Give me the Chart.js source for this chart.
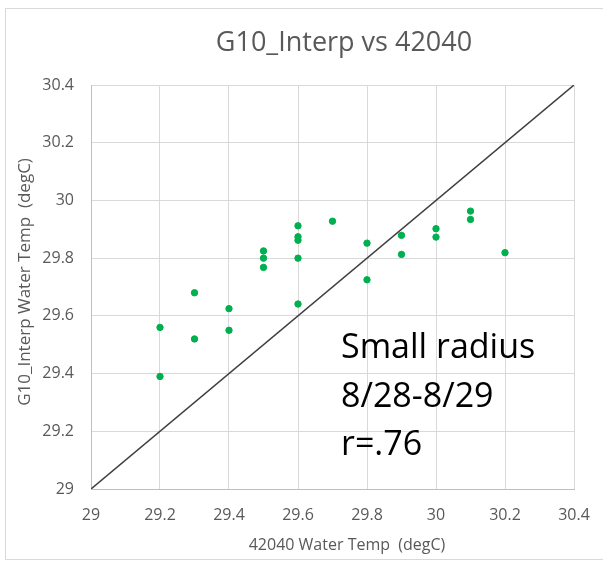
<!DOCTYPE html>
<html>
<head>
<meta charset="utf-8">
<script src="https://cdn.jsdelivr.net/npm/chart.js@4/dist/chart.umd.min.js"></script>
<style>
  html, body { margin: 0; padding: 0; background: #fff; }
  #wrap { width: 603px; height: 563px; position: relative; }
</style>
</head>
<body>
<div id="wrap"><canvas id="scatterChart"></canvas></div>
<script>
// buoy 42040 temps (x) against G10 interpolated temps (y)
const buoyTemp = [29.2, 29.2, 29.3, 29.3, 29.4, 29.4, 29.5, 29.5, 29.5, 29.6, 29.6, 29.6, 29.6, 29.6,
                  29.7, 29.8, 29.8, 29.9, 29.9, 30.0, 30.0, 30.1, 30.1, 30.2];
const interpTemp = [29.56, 29.39, 29.68, 29.52, 29.625, 29.55, 29.825, 29.80, 29.768, 29.912, 29.874, 29.862, 29.80, 29.641,
                    29.928, 29.852, 29.725, 29.879, 29.813, 29.902, 29.873, 29.963, 29.934, 29.819];

// 1:1 reference line
const lineX = [29, 30.4];
const lineY = [29, 30.4];

const noteLines = ["Small radius", "8/28-8/29", "r=.76"];

const scatterPoints = buoyTemp.map((x, i) => ({ x: x, y: interpTemp[i] }));
const onePoints = lineX.map((x, i) => ({ x: x, y: lineY[i] }));

const fmt = v => String(parseFloat(v.toFixed(1)));
const grey = "#595959";

// outer frame, titles and the note text
const extras = {
    id: "extras",
    beforeDraw(chart) {
        const ctx = chart.ctx;
        ctx.save();
        ctx.fillStyle = "#fff";
        ctx.fillRect(0, 0, chart.width, chart.height);
        ctx.strokeStyle = "#d9d9d9";
        ctx.lineWidth = 1;
        ctx.strokeRect(5.5, 8.5, 610, 551);
        ctx.fillStyle = grey;
        ctx.textAlign = "center";
        ctx.textBaseline = "alphabetic";
        ctx.font = "27px 'Open Sans'";
        ctx.fillText("G10_Interp vs 42040", 344, 51);
        ctx.textBaseline = "middle";
        ctx.font = "16px 'Open Sans'";
        ctx.fillText("42040 Water Temp  (degC)", 347, 545);
        ctx.translate(25, 282);
        ctx.rotate(-Math.PI / 2);
        ctx.font = "17px 'Open Sans'";
        ctx.fillText("G10_Interp Water Temp  (degC)", 0, 0);
        ctx.restore();
    },
    afterDraw(chart) {
        const ctx = chart.ctx;
        ctx.save();
        ctx.fillStyle = "#000";
        ctx.font = "34px 'Open Sans'";
        ctx.textAlign = "left";
        ctx.textBaseline = "alphabetic";
        noteLines.forEach((t, i) => ctx.fillText(t, 341, 358 + i * 48.5));
        ctx.restore();
    }
};

new Chart(document.getElementById("scatterChart"), {
    type: "scatter",
    data: {
        datasets: [{
            data: scatterPoints,
            backgroundColor: "#00b050",
            borderColor: "#00b050",
            pointRadius: 3.2,
            pointHoverRadius: 3.2,
            order: 1
        }, {
            type: "line",
            data: onePoints,
            borderColor: "#404040",
            borderWidth: 1.5,
            pointRadius: 0,
            fill: false,
            order: 2
        }]
    },
    options: {
        responsive: true,
        maintainAspectRatio: false,
        animation: false,
        layout: { padding: { top: 85, right: 29, left: 0, bottom: 0 } },
        plugins: {
            legend: { display: false },
            tooltip: { enabled: false }
        },
        scales: {
            x: {
                type: "linear",
                min: 29,
                max: 30.4,
                ticks: { stepSize: 0.2, callback: fmt, color: grey, font: { family: "'Open Sans'", size: 16 }, padding: 17 },
                grid: { color: "#d9d9d9", drawTicks: false },
                border: { color: "#bfbfbf" },
                afterFit(scale) {
                    scale.height = 74;
                    scale.paddingLeft = 0;
                    scale.paddingRight = 0;
                }
            },
            y: {
                min: 29,
                max: 30.4,
                ticks: { stepSize: 0.2, callback: fmt, color: grey, font: { family: "'Open Sans'", size: 16 }, padding: 17 },
                grid: { color: "#d9d9d9", drawTicks: false },
                border: { color: "#bfbfbf" },
                afterFit(scale) { scale.width = 91; }
            }
        }
    },
    plugins: [extras]
});
</script>
</body>
</html>
